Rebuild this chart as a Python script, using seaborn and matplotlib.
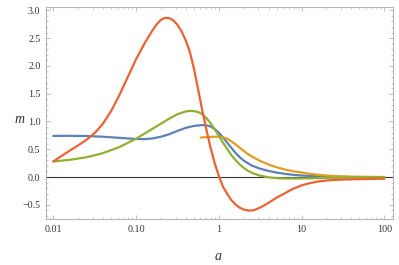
import numpy as np
import pandas as pd
import matplotlib
matplotlib.use("Agg")
import matplotlib.pyplot as plt
import matplotlib.ticker as mticker
import seaborn as sns

# values (a on a log axis)
a_red = [0.01, 0.0126, 0.0158, 0.02, 0.0251, 0.0316, 0.0398, 0.0501, 0.0631, 0.0794,
         0.1, 0.126, 0.158, 0.178, 0.2, 0.224, 0.251, 0.282, 0.316, 0.355,
         0.398, 0.447, 0.501, 0.562, 0.631, 0.708, 0.794, 0.891, 1.0, 1.12,
         1.26, 1.41, 1.58, 1.78, 2.0, 2.29, 2.63, 3.16, 3.98, 5.01,
         6.31, 7.94, 10, 12.6, 15.8, 20, 25.1, 31.6, 50.1, 100]
m_red = [0.28, 0.38, 0.475, 0.57, 0.67, 0.79, 0.96, 1.19, 1.48, 1.80,
         2.12, 2.40, 2.64, 2.75, 2.83, 2.865, 2.86, 2.82, 2.74, 2.62,
         2.46, 2.25, 1.95, 1.58, 1.2, 0.85, 0.53, 0.25, 0.02, -0.17,
         -0.3, -0.41, -0.49, -0.55, -0.585, -0.603, -0.598, -0.55, -0.465, -0.37,
         -0.29, -0.21, -0.15, -0.11, -0.08, -0.063, -0.052, -0.045, -0.037, -0.03]

a_green = [0.01, 0.0158, 0.0251, 0.0398, 0.0631, 0.1, 0.126, 0.158, 0.2, 0.251,
           0.316, 0.398, 0.447, 0.501, 0.562, 0.631, 0.708, 0.794, 0.891, 1.0,
           1.12, 1.26, 1.41, 1.58, 1.78, 2.0, 2.24, 2.51, 3.16, 3.98,
           5.01, 6.31, 10, 15.8, 25.1, 39.8, 100]
m_green = [0.28, 0.31, 0.355, 0.43, 0.54, 0.69, 0.78, 0.87, 0.96, 1.05,
           1.13, 1.18, 1.19, 1.185, 1.17, 1.13, 1.06, 0.97, 0.86, 0.74,
           0.62, 0.51, 0.40, 0.31, 0.23, 0.165, 0.115, 0.075, 0.025, -0.005,
           -0.02, -0.026, -0.026, -0.02, -0.013, -0.008, -0.004]

a_blue = [0.01, 0.0158, 0.0251, 0.0398, 0.0631, 0.1, 0.126, 0.158, 0.2, 0.251,
          0.316, 0.398, 0.501, 0.631, 0.708, 0.794, 0.891, 1.0, 1.12, 1.26,
          1.41, 1.58, 1.78, 2.0, 2.51, 3.16, 3.98, 5.01, 6.31, 7.94,
          10, 15.8, 25.1, 39.8, 100]
m_blue = [0.74, 0.742, 0.738, 0.725, 0.705, 0.685, 0.682, 0.695, 0.725, 0.77,
          0.83, 0.885, 0.92, 0.935, 0.93, 0.91, 0.865, 0.80, 0.715, 0.62,
          0.53, 0.44, 0.36, 0.295, 0.205, 0.15, 0.11, 0.08, 0.057, 0.04,
          0.027, 0.012, 0.004, 0.0, -0.004]

a_orange = [0.603, 0.708, 0.794, 0.891, 1.0, 1.12, 1.26, 1.41, 1.58, 1.78,
            2.0, 2.24, 2.51, 3.16, 3.98, 5.01, 6.31, 7.94, 10, 12.6,
            15.8, 20, 25.1, 39.8, 100]
m_orange = [0.71, 0.718, 0.723, 0.726, 0.725, 0.715, 0.69, 0.645, 0.59, 0.53,
            0.47, 0.415, 0.37, 0.29, 0.225, 0.175, 0.135, 0.105, 0.082, 0.058,
            0.04, 0.027, 0.017, 0.007, 0.0]

x_ticks = [0.01, 0.1, 1, 10, 100]
x_labels = ["0.01", "0.10", "1", "10", "100"]
y_ticks = [-0.5, 0.0, 0.5, 1.0, 1.5, 2.0, 2.5, 3.0]
y_labels = ["\u22120.5", "0.0", "0.5", "1.0", "1.5", "2.0", "2.5", "3.0"]

sns.set_style("ticks")
plt.rcParams['font.family'] = ['Liberation Serif', 'DejaVu Serif']

fig = plt.figure(figsize=(3.99, 2.65), dpi=100)
ax = fig.add_axes([0.1153, 0.1736, 0.8687, 0.8011])

series = [
    (a_blue, m_blue, "#5E81B5"),
    (a_orange, m_orange, "#E19C24"),
    (a_green, m_green, "#8FB032"),
    (a_red, m_red, "#EB6235"),
]
ax.axhline(0, color="#333333", lw=0.8, zorder=1)
for xs, ys, c in series:
    sns.lineplot(x=xs, y=ys, color=c, lw=1.6, ax=ax, sort=False, zorder=2)

ax.set_xscale("log")
ax.set_xlim(0.00816, 126)
ax.set_ylim(-0.755, 3.065)
ax.set_xticks(x_ticks)
ax.set_xticklabels(x_labels)
ax.xaxis.set_minor_locator(mticker.LogLocator(base=10, subs=np.arange(2, 10)))
ax.xaxis.set_minor_formatter(mticker.NullFormatter())
ax.set_yticks(y_ticks)
ax.set_yticklabels(y_labels)
ax.yaxis.set_minor_locator(mticker.MultipleLocator(0.1))

for s in ax.spines.values():
    s.set_color("#b5b5b5")
    s.set_linewidth(0.8)
ax.tick_params(which="both", direction="in", top=True, right=True,
               color="#b5b5b5", labelsize=7.2, labelcolor="#333333")
ax.tick_params(which="major", length=3, width=0.6, pad=4)
ax.tick_params(which="minor", length=1.6, width=0.5)

fig.text(0.05, 0.55, "m", fontsize=10, style="italic", color="#333333",
         ha="center", va="center")
fig.text(0.547, 0.032, "a", fontsize=10, style="italic", color="#333333",
         ha="center", va="center")

fig.savefig("out.png", dpi=100)
